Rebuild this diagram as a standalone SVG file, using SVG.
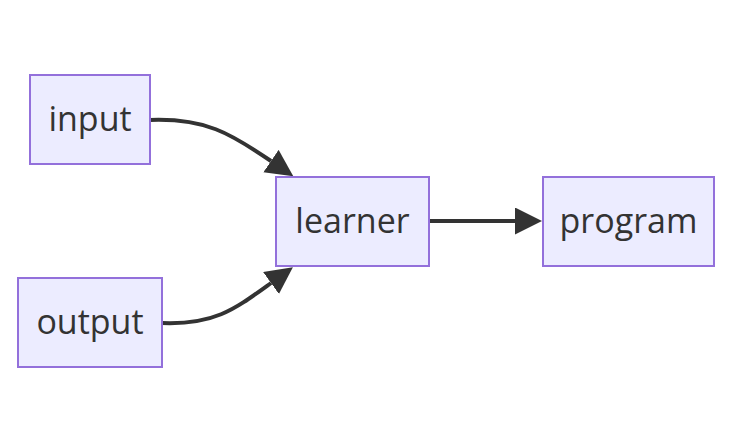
<svg xmlns="http://www.w3.org/2000/svg" width="732" height="443" viewBox="0 0 732 443">
  <style>
    .node rect { fill: #ECECFF; stroke: #9370DB; stroke-width: 2; }
    .node text { font-family: "Open Sans", "DejaVu Sans", sans-serif; font-size: 34px; fill: #333333; text-anchor: middle; }
    .edge { fill: none; stroke: #333333; stroke-width: 4; }
  </style>
  <defs>
    <marker id="arrow" markerUnits="userSpaceOnUse" markerWidth="28" markerHeight="28" refX="0" refY="13.5" orient="auto">
      <path d="M0,0 L27,13.5 L0,27 z" fill="#333333"/>
    </marker>
  </defs>
  <g id="connectors">
    <path class="edge" d="M150,120 C205,118 230,133 271,161" marker-end="url(#arrow)"/>
    <path class="edge" d="M162,323 C215,325 235,309 271,283" marker-end="url(#arrow)"/>
    <path class="edge" d="M429,221 L515,221" marker-end="url(#arrow)"/>
  </g>
  <g id="input" class="node">
    <rect x="30" y="75" width="120" height="89"/>
    <text x="90" y="131">input</text>
  </g>
  <g id="output" class="node">
    <rect x="18" y="278" width="144" height="89"/>
    <text x="90" y="334">output</text>
  </g>
  <g id="learner" class="node">
    <rect x="276" y="177" width="153" height="89"/>
    <text x="352.5" y="233">learner</text>
  </g>
  <g id="program" class="node">
    <rect x="543" y="177" width="171" height="89"/>
    <text x="628.5" y="233">program</text>
  </g>
</svg>
